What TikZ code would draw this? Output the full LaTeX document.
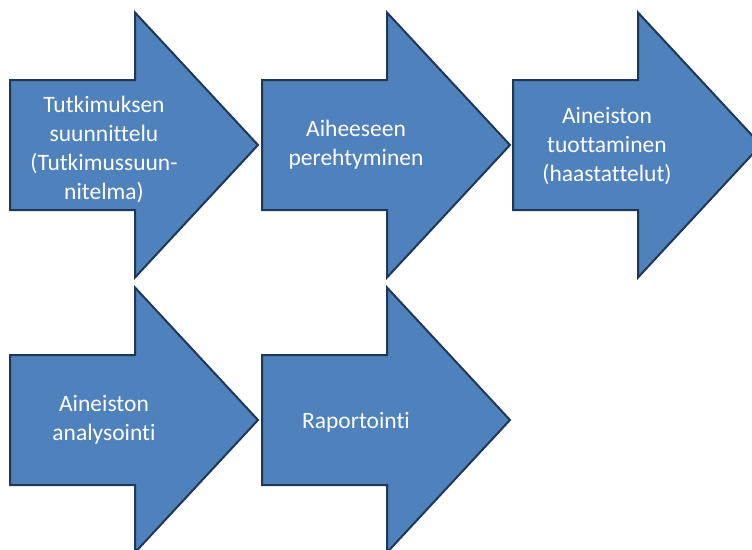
\documentclass[tikz,border=0pt]{standalone}
\usepackage{fontspec}
\setmainfont{Carlito}[Ligatures = NoCommon]
\definecolor{arrowblue}{HTML}{4F81BD}
\definecolor{arrowedge}{HTML}{1E3856}
\begin{document}
\begin{tikzpicture}[
    x = 1pt, y = -1pt,
    blockarrow/.style = {fill = arrowblue, draw = arrowedge, line width = 2pt, line join = miter},
    steptext/.style = {text = white, align = center, inner sep = 0pt, font = \fontsize{23.5}{29}\selectfont}
  ]
  \useasboundingbox (0, 0) rectangle (752, 549);
  % the arrows
  \foreach \x/\y in {10/145, 262/145, 513/145, 10/420, 262/420} {
    \draw[blockarrow] (\x, \y-65) -- ++(125, 0) -- ++(0, -67.5) -- (\x+248, \y)
      -- (\x+125, \y+132.5) -- ++(0, -67.5) -- (\x, \y+65) -- cycle;
  }
  % the phases
  \node[steptext] (plan)     at (104, 149) {Tutkimuksen\\suunnittelu\\(Tutkimussuun-\\nitelma)};
  \node[steptext] (intro)    at (356, 145) {Aiheeseen\\perehtyminen};
  \node[steptext] (data)     at (607, 146) {Aineiston\\tuottaminen\\(haastattelut)};
  \node[steptext] (analysis) at (104, 420) {Aineiston\\analysointi};
  \node[steptext] (report)   at (356, 422) {Raportointi};
\end{tikzpicture}
\end{document}
